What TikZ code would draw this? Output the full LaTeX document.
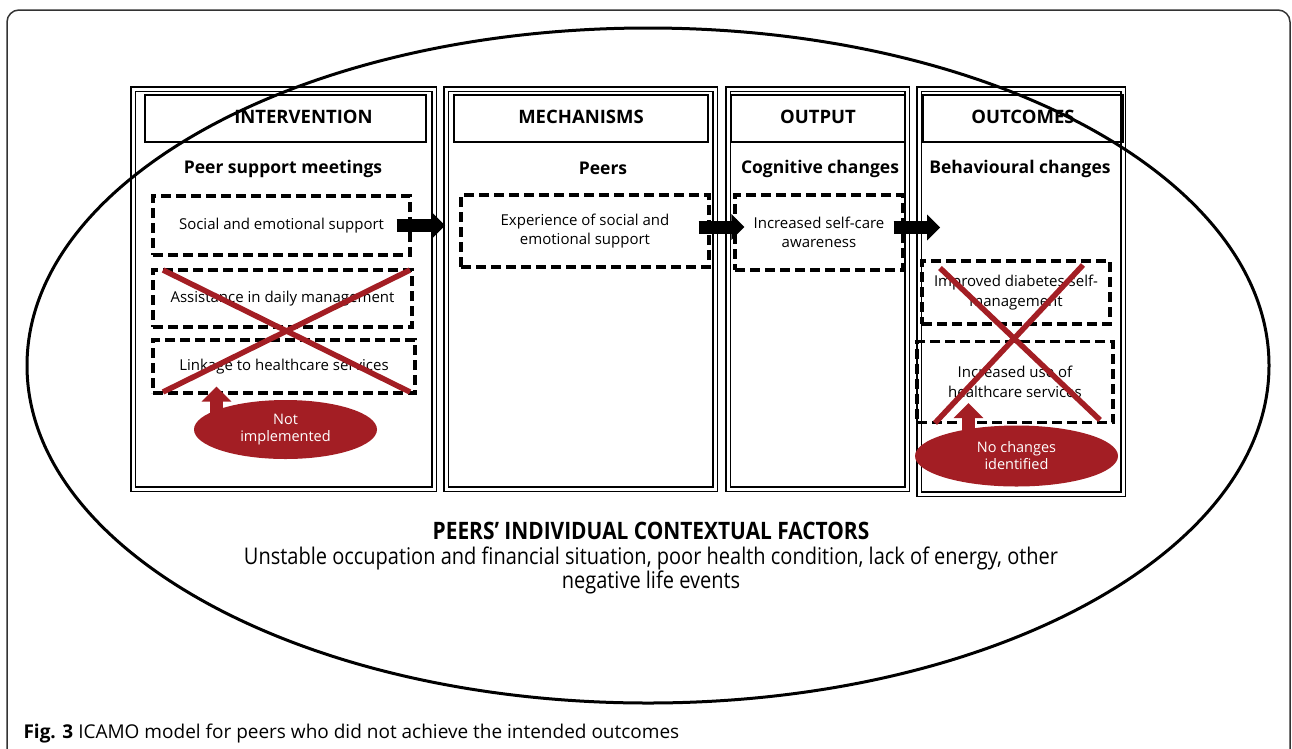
\documentclass[tikz,border=0pt]{standalone}
\usepackage{fontspec}
\setmainfont{Open Sans}
\newfontfamily\narrowfont[FakeStretch=0.87]{Open Sans}
\usetikzlibrary{positioning,arrows.meta,shapes.geometric}
\definecolor{markred}{RGB}{163,30,36}

\begin{document}
\begin{tikzpicture}[x=1pt, y=-1pt,
  column box/.style={draw, double, double distance=3pt, line width=1.6pt, inner sep=0pt},
  head box/.style={draw, line width=2.8pt, minimum height=47pt, inner sep=0pt, font=\bfseries\fontsize{18.5}{20}\selectfont},
  sub title/.style={font=\bfseries\fontsize{17.5}{20}\selectfont},
  dash box/.style={draw, line width=3.2pt, dash pattern=on 10pt off 5pt, align=center, inner sep=0pt, font=\fontsize{15}{19.5}\selectfont},
  red blob/.style={ellipse, fill=markred, text=white, align=center, inner sep=0pt, font=\fontsize{14.5}{17}\selectfont},
  block arrow/.style={line width=13pt, -{Triangle[length=13pt, width=25pt]}},
  up arrow/.style={markred, line width=13pt, -{Triangle[length=15pt, width=29pt]}},
  cross line/.style={markred, line width=5.5pt}]

  \useasboundingbox (0,0) rectangle (1292,748);

  % Frame of the figure
  \draw[line width=1.5pt, black!80, rounded corners=12pt] (7,770) -- (7,10) -- (1290,10) -- (1290,770);

  % Columns
  \node[column box, minimum width=301pt, minimum height=400pt] (col1) at (283.5,289) {};
  \node[column box, minimum width=269pt, minimum height=400pt] (col2) at (580.5,289) {};
  \node[column box, minimum width=179pt, minimum height=400pt] (col3) at (817.5,289) {};
  \node[column box, minimum width=204pt, minimum height=405pt] (col4) at (1021,291.5) {};

  % Headers
  \node[head box, minimum width=281pt] (ihead) at (285.5,118.5) {\hspace*{36pt}INTERVENTION\rule[-4pt]{0pt}{4pt}};
  \node[head box, minimum width=254pt] (mhead) at (581,118.5) {MECHANISMS\rule[-4pt]{0pt}{4pt}};
  \node[head box, minimum width=174pt] (ohead) at (818,118.5) {OUTPUT\rule[-4pt]{0pt}{4pt}};
  \node[head box, minimum width=200pt] (uhead) at (1023,118.5) {OUTCOMES\rule[-4pt]{0pt}{4pt}};

  \node[sub title] (isub) at (283,168.5) {Peer support meetings};
  \node[sub title] (msub) at (603,168.5) {Peers};
  \node[sub title] (osub) at (820,168.5) {Cognitive changes};
  \node[sub title] (usub) at (1020,168.5) {Behavioural changes};

  % Dashed boxes
  \node[dash box, minimum width=257pt, minimum height=59pt] (soc) at (281.5,225.5) {Social and emotional support};
  \node[dash box, minimum width=259pt, minimum height=57pt] (assist) at (282.5,298.5) {Assistance in daily management};
  \node[dash box, minimum width=262pt, minimum height=53pt] (link) at (284,366.5) {Linkage to healthcare services};
  \node[dash box, minimum width=248pt, minimum height=72pt] (exper) at (585,231) {Experience of social and\\emotional support};
  \node[dash box, minimum width=168pt, minimum height=75pt] (aware) at (819,232.5) {Increased self-care\\awareness};
  \node[dash box, minimum width=188pt, minimum height=63pt] (selfm) at (1016,292.5) {Improved diabetes self-\\management};
  \node[dash box, minimum width=196pt, minimum height=81pt] (usehc) at (1015,382) {Increased use of\\healthcare services};

  % Red labels
  \node[red blob, minimum width=183pt, minimum height=59pt] (notimpl) at (285.5,429.5) {Not\\implemented};
  \node[red blob, minimum width=203pt, minimum height=61pt] (nochange) at (1016.5,456) {No changes\\identified};

  % Arrows
  \draw[block arrow] ([xshift=-15pt]soc.east) -- (soc.east -| col2.west);
  \draw[block arrow] ([shift={(-12pt,4pt)}]exper.east) -- ([shift={(11pt,4pt)}]exper.east -| aware.west);
  \draw[block arrow] ([shift={(-11pt,5pt)}]aware.east) -- ([shift={(22pt,5pt)}]aware.east -| col4.west);
  \draw[up arrow] ([xshift=-69pt]notimpl.center) -- ([shift={(-67.5pt,8pt)}]link.south);
  \draw[up arrow] ([shift={(-48pt,8pt)}]nochange.center) -- ([shift={(-46.5pt,21pt)}]usehc.south);

  % Crosses
  \draw[cross line] (163,270) -- (410,392) (410,270) -- (163,392);
  \draw[cross line] (940,268) -- (1100,420) (1083,265) -- (935,423);

  % Context
  \node[ellipse, draw, line width=3pt, minimum width=1242pt, minimum height=675pt] (context) at (648,365.5) {};
  \node[font=\narrowfont\bfseries\fontsize{24}{26}\selectfont] (ctitle) at (651,531) {PEERS’ INDIVIDUAL CONTEXTUAL FACTORS};
  \node[font=\narrowfont\fontsize{23}{24}\selectfont, align=center] (ctext) at (651,570) {Unstable occupation and financial situation, poor health condition, lack of energy, other\\negative life events};

  \node[anchor=west, font=\fontsize{19}{20}\selectfont] (caption) at (20,733) {\textbf{Fig. 3} ICAMO model for peers who did not achieve the intended outcomes};
\end{tikzpicture}
\end{document}
